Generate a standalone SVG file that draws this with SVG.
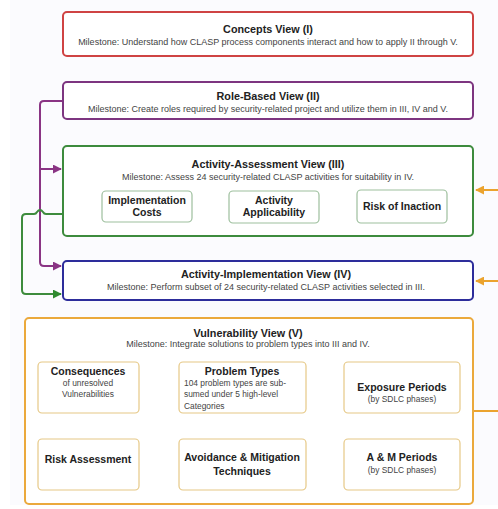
<svg xmlns="http://www.w3.org/2000/svg" width="498" height="509" viewBox="0 0 498 509">
  <defs>
    <style>
      .view { fill: #ffffff; stroke-width: 2; }
      .inner-g { fill: #ffffff; stroke: #9dbf9d; stroke-width: 1.2; }
      .inner-o { fill: #ffffff; stroke: #e6c886; stroke-width: 1.2; }
      .title { font-family: "Liberation Sans", Arial, sans-serif; font-weight: bold; font-size: 10.8px; fill: #222; text-anchor: middle; }
      .sub { font-family: "Liberation Sans", Arial, sans-serif; font-size: 9px; fill: #444; text-anchor: middle; }
      .ibold { font-family: "Liberation Sans", Arial, sans-serif; font-weight: bold; font-size: 10.5px; fill: #222; text-anchor: middle; }
      .ismall { font-family: "Liberation Sans", Arial, sans-serif; font-size: 8.4px; fill: #444; text-anchor: middle; }
      .left { text-anchor: start; }
      .con { fill: none; stroke-width: 2; }
    </style>
    <marker id="ah-purple" viewBox="0 0 10 10" refX="9" refY="5" markerWidth="4.5" markerHeight="4.5" orient="auto">
      <path d="M0,0 L10,5 L0,10 z" fill="#8a3484"/>
    </marker>
    <marker id="ah-green" viewBox="0 0 10 10" refX="9" refY="5" markerWidth="4.5" markerHeight="4.5" orient="auto">
      <path d="M0,0 L10,5 L0,10 z" fill="#2f8a2f"/>
    </marker>
    <marker id="ah-green-s" viewBox="0 0 10 10" refX="1" refY="5" markerWidth="4.5" markerHeight="4.5" orient="auto">
      <path d="M10,0 L0,5 L10,10 z" fill="#2f8a2f"/>
    </marker>
    <marker id="ah-orange" viewBox="0 0 10 10" refX="9" refY="5" markerWidth="4.5" markerHeight="4.5" orient="auto">
      <path d="M0,0 L10,5 L0,10 z" fill="#eba32e"/>
    </marker>
  </defs>

  <!-- page -->
  <rect x="0" y="0" width="498" height="509" fill="#ffffff"/>
  <rect x="10" y="0" width="488" height="505" fill="#fbfbfe"/>

  <!-- connectors -->
  <g id="connectors">
    <!-- Role-Based View feeds III and IV -->
    <path class="con" stroke="#8a3484" d="M63,101 H44 Q40,101 40,105 V262 Q40,266 44,266 H61" marker-end="url(#ah-purple)"/>
    <path class="con" stroke="#8a3484" d="M40,169 H61" marker-end="url(#ah-purple)"/>
    <!-- Activity-Assessment feeds IV (hops over the purple line) -->
    <path class="con" stroke="#3d8b3d" d="M63,214 H46 Q44,214 43,212 Q40,208 37,212 Q36,214 34,214 H26 Q22,214 22,218 V290 Q22,294 26,294 H61" marker-end="url(#ah-green)"/>
    <!-- inner links of the assessment view -->
    <path class="con" stroke="#2f8a2f" d="M195,207 H226" marker-start="url(#ah-green-s)" marker-end="url(#ah-green)"/>
    <path class="con" stroke="#2f8a2f" d="M322,207 H354" marker-start="url(#ah-green-s)" marker-end="url(#ah-green)"/>
    <!-- Vulnerability View feeds III and IV -->
    <path class="con" stroke="#eba32e" d="M498,190 H476" marker-end="url(#ah-orange)"/>
    <path class="con" stroke="#eba32e" d="M498,281 H476" marker-end="url(#ah-orange)"/>
    <path class="con" stroke="#eba32e" d="M474,411 H498"/>
    <!-- inner links of the vulnerability view -->
    <path class="con" stroke="#eba32e" d="M179,387 H142" marker-end="url(#ah-orange)"/>
    <path class="con" stroke="#eba32e" d="M306,387 H344"/>
    <path class="con" stroke="#eba32e" d="M88,439 V416" marker-end="url(#ah-orange)"/>
    <path class="con" stroke="#eba32e" d="M242,439 V416" marker-end="url(#ah-orange)"/>
    <path class="con" stroke="#eba32e" d="M306,454 H344"/>
  </g>

  <!-- Concepts View (I) -->
  <g id="concepts-view">
    <rect class="view" x="63" y="12" width="410" height="44" rx="4" stroke="#cf4343"/>
    <text class="title" x="268" y="33">Concepts View (I)</text>
    <text class="sub" x="268" y="44.5">Milestone: Understand how CLASP process components interact and how to apply II through V.</text>
  </g>

  <!-- Role-Based View (II) -->
  <g id="role-based-view">
    <rect class="view" x="63" y="82" width="410" height="37" rx="4" stroke="#7d3580"/>
    <text class="title" x="268" y="100">Role-Based View (II)</text>
    <text class="sub" x="268" y="111.5">Milestone: Create roles required by security-related project and utilize them in III, IV and V.</text>
  </g>

  <!-- Activity-Assessment View (III) -->
  <g id="activity-assessment-view">
    <rect class="view" x="63" y="146" width="410" height="90" rx="4" stroke="#3d8b3d"/>
    <text class="title" x="268" y="168">Activity-Assessment View (III)</text>
    <text class="sub" x="268" y="179.5">Milestone: Assess 24 security-related CLASP activities for suitability in IV.</text>
  </g>
  <g id="implementation-costs">
    <rect class="inner-g" x="102" y="191" width="90" height="31" rx="4"/>
    <text class="ibold" x="147" y="204">Implementation</text>
    <text class="ibold" x="147" y="216">Costs</text>
  </g>
  <g id="activity-applicability">
    <rect class="inner-g" x="229" y="191" width="90" height="32" rx="4"/>
    <text class="ibold" x="274" y="204">Activity</text>
    <text class="ibold" x="274" y="216">Applicability</text>
  </g>
  <g id="risk-of-inaction">
    <rect class="inner-g" x="357" y="190" width="90" height="33" rx="4"/>
    <text class="ibold" x="402" y="210">Risk of Inaction</text>
  </g>

  <!-- Activity-Implementation View (IV) -->
  <g id="activity-implementation-view">
    <rect class="view" x="63" y="261" width="410" height="39" rx="4" stroke="#2d2d9b"/>
    <text class="title" x="266" y="278">Activity-Implementation View (IV)</text>
    <text class="sub" x="266" y="289.5">Milestone: Perform subset of 24 security-related CLASP activities selected in III.</text>
  </g>

  <!-- Vulnerability View (V) -->
  <g id="vulnerability-view">
    <rect class="view" x="25" y="318" width="448" height="186" rx="4" stroke="#eba93c"/>
    <text class="title" x="248" y="337">Vulnerability View (V)</text>
    <text class="sub" x="248" y="346.5">Milestone: Integrate solutions to problem types into III and IV.</text>
  </g>
  <g id="consequences">
    <rect class="inner-o" x="38" y="362" width="101" height="51" rx="4"/>
    <text class="ibold" x="88" y="375">Consequences</text>
    <text class="ismall" x="88" y="386">of unresolved</text>
    <text class="ismall" x="88" y="397">Vulnerabilities</text>
  </g>
  <g id="problem-types">
    <rect class="inner-o" x="179" y="362" width="127" height="51" rx="4"/>
    <text class="ibold" x="242" y="375">Problem Types</text>
    <text class="ismall left" x="184" y="386">104 problem types are sub-</text>
    <text class="ismall left" x="184" y="397">sumed under 5 high-level</text>
    <text class="ismall left" x="184" y="409">Categories</text>
  </g>
  <g id="exposure-periods">
    <rect class="inner-o" x="344" y="362" width="116" height="51" rx="4"/>
    <text class="ibold" x="402" y="391">Exposure Periods</text>
    <text class="ismall" x="402" y="402">(by SDLC phases)</text>
  </g>
  <g id="risk-assessment">
    <rect class="inner-o" x="38" y="439" width="101" height="51" rx="4"/>
    <text class="ibold" x="88" y="463">Risk Assessment</text>
  </g>
  <g id="avoidance-mitigation">
    <rect class="inner-o" x="179" y="439" width="127" height="51" rx="4"/>
    <text class="ibold" x="242" y="461">Avoidance &amp; Mitigation</text>
    <text class="ibold" x="242" y="475">Techniques</text>
  </g>
  <g id="am-periods">
    <rect class="inner-o" x="344" y="439" width="116" height="51" rx="4"/>
    <text class="ibold" x="402" y="461">A &amp; M Periods</text>
    <text class="ismall" x="402" y="473">(by SDLC phases)</text>
  </g>
</svg>
